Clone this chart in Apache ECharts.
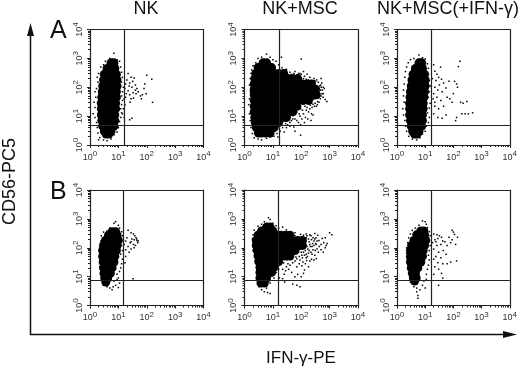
<!DOCTYPE html>
<html><head><meta charset="utf-8">
<style>html,body{margin:0;padding:0;background:#fff}#c{width:520px;height:369px}</style>
<script src="https://cdn.jsdelivr.net/npm/echarts@6/dist/echarts.min.js"></script>
</head><body><div id="c"></div>
<script>
const columnTitles = ['NK', 'NK+MSC', 'NK+MSC(+IFN-γ)'];
const rowLetters = ['A', 'B'];
const xAxisName = 'IFN-γ-PE';
const yAxisName = 'CD56-PC5';
const gateX = [16.4, 16.8, 17, 15.3, 15.5, 16];
const gateY = [4.9, 4.9, 4.9, 7.4, 7.4, 7.4];

// dense cores: each row is [CD56, IFN values...]
const coreA1 = [[700,5.5,7],[450,4,5.5,7.5],[280,3.2,4.5,6.5,8.5],[180,3,4.5,6.5,9],[110,2.8,4,6,9],[70,2.7,4,6,8.5],[45,2.6,3.8,5.5,8.5],[28,2.5,3.6,5.5,8],[18,2.5,3.5,5.5,8],[11,2.5,3.5,5.5,7.5],[7,2.6,3.5,5.5,7.5],[4.5,2.8,3.8,5.5,7],[3,3.2,4,5.5],[2.4,3.7,4.6]];
const coreA2 = [[700,4.5,6],[480,3,4.5,6.5,9],[300,2.5,3.5,5,7.5,11,16,24],[200,2.3,3.2,5,7.5,11,16,24,35,50,75],[130,2.2,3,5,7.5,11,16,24,35,50,75,110,160,230],[85,2.2,3,5,7.5,11,16,24,35,50,75,110,160,230,320],[55,2.2,3,5,7.5,11,16,24,35,50,80,120,170,250,340],[35,2.2,3,5,7.5,11,16,24,35,55,80,120,180],[22,2.2,3,5,7.5,11,16,24,35,50,70],[14,2.2,3,5,7.5,11,16,24,35,50],[9,2.3,3.2,5,7.5,11,16,24,30],[6,2.4,3.5,5,7.5,11,16],[4,2.6,3.5,5,7.5,11],[2.6,3.1,4,5.5,8]];
const coreA3 = [[700,6,7.5],[450,4.5,6,8],[280,3.7,5,7,9.5],[180,3.4,5,7,10],[110,3.2,4.5,6.5,10],[70,3,4.5,6.5,9.5],[45,2.9,4.2,6,9],[28,2.8,4,6,8.5],[18,2.8,4,6,8.5],[11,2.8,4,6,8],[7,3,4,6,8],[4.5,3.2,4.2,6,7.5],[3,3.6,4.5,6],[2.4,4.2,5.2]];
const coreB1 = [[360,6,8],[270,4.5,6.5,9],[180,3.5,5,7,10],[120,3,4.5,6.5,9],[80,2.8,4,6,8.5],[50,2.8,4,5.5,7.5],[32,2.9,4,5.5,7],[20,3,4,5,6],[13,3.1,4.2,5.2],[9,3.3,4.2],[6.5,3.6]];
const coreB2 = [[520,6,8],[380,4,5.5,7.5,10],[270,3,4.5,6.5,9,13,19,28,40],[180,2.6,3.8,5.5,8,12,17,25,36,50,75,110],[120,2.6,3.8,5.5,8,12,17,25,36,50,75,110],[80,2.8,4,5.5,8,12,18,27,40,60],[52,3,4,5.5,8,12,18,26,40],[33,3.2,4.5,6,8,11,16],[21,3.5,4.5,6,8,11],[14,3.5,4.5,6.5,9],[9,3.5,4.5,6],[6,3.8,5]];
const coreB3 = [[380,7,9],[280,5,7,9.5],[180,4,5.5,7.5,10.5],[120,3.3,5,7,9.5],[80,3,4.5,6.5,8.5],[50,3,4.2,6,8],[32,3,4.2,5.5,7],[20,3.2,4.2,5.5],[13,3.5,4.5],[9,3.8,4.8],[7,4.2]];

// outlying events: [IFN, CD56]
const speckA1 = [[7,1500],[5,1000],[9,900],[11,800],[3.5,800],[3,600],[2.4,500],[2,300],[1.8,220],[1.9,150],[1.7,90],[1.5,70],[1.6,45],[1.4,30],[1.5,20],[1.3,12],[1.5,9],[1.7,6],[1.8,4],[1.9,2.6],[2.2,1.8],[3,1.5],[4,1.4],[2,1.5],[5.5,1.6],[7,2.2],[9,2.8],[10,4],[11,6.5],[12,9],[13,13],[12,18],[13,25],[14,35],[13,50],[14,70],[15,100],[13,150],[14,220],[13,330],[12,500],[22,300],[28,220],[32,160],[36,210],[40,120],[45,90],[50,70],[33,65],[25,55],[28,40],[34,42],[60,50],[70,55],[85,130],[95,60],[100,260],[150,190],[160,30],[30,8.5],[25,7.5],[20,180],[18,130],[17,90],[19,60],[16,40],[17,25],[15,18],[14,12],[16,9],[25,140],[30,100],[40,80],[22,75],[26,30],[18,45],[24,110],[42,60],[65,40],[80,90]];
const speckA2 = [[6,1400],[8,1100],[3,1000],[4,1100],[10,900],[2.5,700],[2,550],[1.8,400],[1.7,300],[1.6,200],[1.5,120],[1.6,70],[1.5,40],[1.4,25],[1.5,12],[1.6,7],[1.7,4],[1.9,2.5],[2.2,1.8],[3,1.6],[4,1.5],[6,1.7],[8,1.9],[11,2],[14,2.5],[18,3],[15,1.9],[25,2.8],[30,4],[40,4.5],[55,4.2],[60,3],[95,2.2],[45,7],[60,8],[80,6],[130,6],[220,7],[38,10],[52,12],[70,14],[90,10],[120,12],[150,16],[200,18],[260,11],[46,18],[65,22],[85,20],[110,26],[180,26],[240,20],[310,28],[380,32],[300,40],[420,45],[500,50],[600,60],[700,38],[800,32],[550,80],[650,90],[480,120],[400,150],[350,180],[280,200],[500,200],[200,220],[160,280],[120,350],[90,300],[60,350],[30,420],[22,360],[16,600],[13,800],[20,1100],[100,950],[45,280],[70,220],[130,240],[230,170],[330,110],[430,85],[380,70],[320,60],[360,100],[420,65],[470,40],[200,32],[230,28],[270,38],[170,40],[140,45],[340,45],[75,26],[95,18],[110,16],[135,22],[160,20],[180,14],[210,24],[260,26],[290,22],[85,12],[105,8],[60,17],[50,8],[40,6],[33,5],[28,5.5],[22,4],[17,3.5],[140,9],[170,8],[70,7],[95,5],[120,200],[150,190],[180,180],[250,150],[290,170],[320,160],[100,280],[80,300],[55,300],[40,330],[28,400],[21,470],[450,110],[510,100],[540,60],[590,45],[480,80],[420,30],[370,25],[340,22],[230,12],[600,100],[530,140]];
const speckA3 = [[6,1300],[8,1050],[10,950],[4,1000],[3,900],[2.5,700],[2.2,500],[2,350],[1.9,220],[1.8,130],[1.7,80],[1.7,50],[1.8,30],[1.6,18],[1.7,11],[1.9,7],[2,4.5],[2.2,3],[2.6,2],[3.5,1.6],[5,1.5],[6.5,1.8],[8,2.4],[10,3],[11,4.5],[13,6],[14,9],[12,13],[14,19],[15,28],[13,45],[14,70],[15,110],[14,170],[13,280],[13,450],[12,650],[20,600],[35,500],[22,360],[26,280],[30,220],[24,170],[38,190],[45,140],[32,120],[22,100],[28,80],[40,70],[55,95],[20,60],[26,45],[36,35],[60,45],[22,30],[30,18],[45,22],[20,12],[28,9],[40,8.5],[55,11],[75,40],[90,30],[110,160],[130,130],[150,520],[170,800],[140,100],[120,7],[180,30],[220,28],[300,32],[200,12],[260,12],[340,12],[480,13],[130,9],[100,60],[70,160],[18,200],[19,40],[22,22]];
const speckB1 = [[8,800],[7,700],[10,600],[11,480],[5,480],[4,380],[3,350],[2.5,260],[2.4,170],[2.2,120],[2.1,80],[2.2,55],[2.3,35],[2.2,22],[2.5,16],[2.6,11],[2.7,8],[2.8,6],[3,5],[4,4.5],[5,4],[6,3.5],[6.5,4.5],[8,5],[10,4.2],[11,6],[10,9],[9,8],[7,7],[9,12],[11,15],[12,20],[13,28],[14,40],[12,60],[14,80],[13,120],[15,180],[14,260],[13,360],[22,400],[28,330],[34,300],[38,260],[42,220],[45,180],[48,150],[50,170],[36,190],[30,200],[26,150],[34,130],[40,120],[22,110],[28,90],[24,70],[18,50],[17,30],[18,85],[20,220],[33,8.5],[28,160],[44,200],[36,100],[16,130],[18,170]];
const speckB2 = [[7,1100],[8,950],[5,800],[10,700],[4,650],[3,550],[2.2,400],[2,280],[1.9,200],[2,130],[2,80],[2.3,55],[2.4,35],[2.7,22],[2.8,14],[3,9],[3,6],[3.3,4.5],[4,3.5],[5,3],[6.5,2.8],[8,2.6],[6,4],[8,6],[11,9],[13,14],[16,18],[13,24],[17,9],[22,8.5],[26,6.5],[50,5.5],[70,5],[90,4.5],[28,16],[36,18],[46,14],[60,10],[75,12],[100,10],[120,13],[130,17],[40,25],[50,30],[70,22],[85,28],[105,24],[140,28],[180,22],[200,35],[150,45],[110,45],[70,42],[48,45],[32,38],[230,40],[280,38],[340,42],[300,55],[240,60],[180,65],[120,70],[80,70],[50,65],[40,80],[65,110],[90,130],[130,100],[170,90],[210,110],[260,85],[310,80],[360,90],[430,110],[500,85],[600,70],[700,100],[760,120],[820,140],[620,150],[500,130],[420,180],[360,170],[300,200],[250,140],[190,160],[150,220],[110,190],[85,220],[60,260],[45,300],[36,350],[30,420],[22,520],[16,480],[13,580],[25,340],[60,330],[95,290],[150,300],[220,260],[300,310],[380,270],[280,170],[340,130],[400,70],[1000,330],[1200,280],[700,220],[550,210],[130,150],[90,90],[55,160],[70,180],[100,70],[140,80],[160,110],[200,130],[240,110],[280,120],[320,140],[190,80],[220,70],[150,60],[105,55],[85,50],[65,48],[130,55],[165,50],[90,38],[60,35],[115,32],[155,36],[30,22],[25,12],[34,28],[22,18],[24,30],[180,200],[230,190],[260,220],[330,220],[160,260],[120,270],[200,280]];
const speckB3 = [[8,850],[10,800],[11,650],[6,600],[12,500],[4.5,480],[3.5,400],[3,300],[2.6,220],[2.4,150],[2.2,100],[2.2,65],[2.3,42],[2.4,28],[2.6,18],[2.7,13],[2.9,9],[3,6.5],[3.6,5.5],[4,4.5],[5,4],[5,3],[5.5,2.2],[5.5,1.8],[6.5,3.5],[8,5],[9,7],[10,4],[11,8],[11,12],[12,18],[13,25],[14,38],[13,55],[14,80],[15,120],[14,170],[15,260],[14,360],[20,300],[26,280],[32,260],[38,230],[28,210],[22,190],[42,170],[50,160],[60,120],[70,230],[90,400],[100,350],[110,290],[140,230],[120,130],[90,190],[80,150],[36,130],[26,120],[20,90],[30,70],[44,80],[55,60],[24,50],[36,45],[20,40],[28,30],[42,28],[60,28],[80,32],[130,35],[22,22],[30,18],[20,12],[42,9],[30,5],[38,13],[18,150],[24,160]];

const coreSets = [coreA1, coreA2, coreA3, coreB1, coreB2, coreB3];
const speckSets = [speckA1, speckA2, speckA3, speckB1, speckB2, speckB3];

const plotLeft = [90, 244.5, 397];
const plotTop = [29.5, 190];
const plotW = 113.5, plotH = 115.5;
const labelFont = 'Liberation Sans, Arial, sans-serif';

function tickLabel(v){
  const e = Math.round(Math.log10(v));
  return '{b|10}{s|' + e + '}';
}
const rich = {
  b:{fontSize:9,color:'#333',fontFamily:labelFont,padding:[3,0,0,0]},
  s:{fontSize:8,color:'#333',fontFamily:labelFont,padding:[0,0,4,0]}
};
const grids=[],xAxes=[],yAxes=[],series=[];
for(let i=0;i<6;i++){
  const col=i%3,row=Math.floor(i/3);
  grids.push({left:plotLeft[col],top:plotTop[row],width:plotW,height:plotH,show:false});
  const base={type:'log',logBase:10,min:1,max:10000,gridIndex:i,
    axisLine:{show:true,onZero:false,lineStyle:{color:'#222',width:1.2}},
    axisTick:{show:true,length:3,lineStyle:{color:'#222',width:1}},
    minorTick:{show:true,splitNumber:9,length:2,lineStyle:{color:'#222',width:1}},
    splitLine:{show:false},minorSplitLine:{show:false}};
  xAxes.push({...base,position:'bottom',axisLabel:{show:true,formatter:tickLabel,rich,margin:5,hideOverlap:false,showMinLabel:true,showMaxLabel:true}});
  yAxes.push({...base,position:'left',axisLabel:{show:true,rotate:90,formatter:tickLabel,rich,margin:6,hideOverlap:false,showMinLabel:true,showMaxLabel:true}});
  xAxes.push({...base,gridIndex:i,position:'top',axisTick:{show:false},minorTick:{show:false},axisLabel:{show:false}});
  yAxes.push({...base,gridIndex:i,position:'right',axisTick:{show:false},minorTick:{show:false},axisLabel:{show:false}});
  const xi=i*2,yi=i*2;
  const core=coreSets[i].flatMap(r=>r.slice(1).map(x=>[x,r[0]]));
  series.push({type:'scatter',xAxisIndex:xi,yAxisIndex:yi,data:core,symbol:'circle',symbolSize:9,silent:true,itemStyle:{color:'#000',opacity:1},
    animation:false,
    markLine:{silent:true,symbol:'none',animation:false,label:{show:false},lineStyle:{color:'#222',width:1.2,type:'solid',opacity:1},
      data:[{xAxis:gateX[i]},{yAxis:gateY[i]}]}});
  series.push({type:'scatter',xAxisIndex:xi,yAxisIndex:yi,data:speckSets[i],symbol:'rect',symbolSize:1.5,silent:true,itemStyle:{color:'#000',opacity:1},animation:false});
}
const titles=columnTitles.map((t,i)=>({text:t,left:[146,300,448][i],top:0,padding:0,textAlign:'center',
  textStyle:{fontSize:18,fontWeight:'normal',color:'#111',fontFamily:labelFont}}));
const arrow='#111';
const graphic=[
  {type:'text',left:50,top:19,style:{text:rowLetters[0],fontSize:25,fill:'#111',fontFamily:labelFont}},
  {type:'text',left:50,top:180,style:{text:rowLetters[1],fontSize:25,fill:'#111',fontFamily:labelFont}},
  {type:'text',x:10,y:181.5,rotation:Math.PI/2,style:{text:yAxisName,fontSize:18,fill:'#111',fontFamily:labelFont,align:'center',verticalAlign:'middle'}},
  {type:'text',x:301,y:358,style:{text:xAxisName,fontSize:17,fill:'#111',fontFamily:labelFont,align:'center',verticalAlign:'middle'}},
  {type:'polyline',shape:{points:[[30.5,34],[30.5,334.5],[506,334.5]]},style:{stroke:arrow,lineWidth:1.5,fill:null}},
  {type:'polygon',shape:{points:[[30.5,23],[27,36],[34,36]]},style:{fill:arrow}},
  {type:'polygon',shape:{points:[[517,334.5],[503,331],[503,338]]},style:{fill:arrow}}
];
const chart=echarts.init(document.getElementById('c'),null,{renderer:'canvas'});
chart.setOption({animation:false,backgroundColor:'#fff',title:titles,grid:grids,xAxis:xAxes,yAxis:yAxes,series,graphic});
</script></body></html>
